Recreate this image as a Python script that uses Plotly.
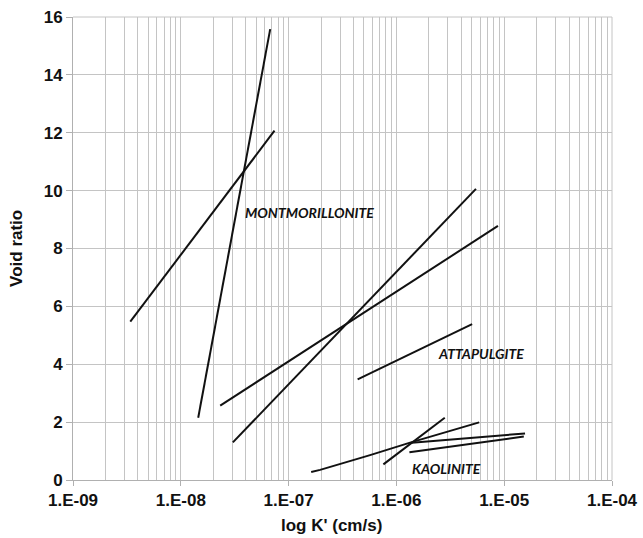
import math
import plotly.graph_objects as go

# Line data (K' in cm/s, void ratio)
mont_a_k = [3.4e-9, 7.4e-8]
mont_a_e = [5.47, 12.07]
mont_b_k = [1.45e-8, 6.75e-8]
mont_b_e = [2.15, 15.58]
line3_k = [2.32e-8, 8.75e-6]
line3_e = [2.57, 8.78]
line4_k = [3.04e-8, 5.47e-6]
line4_e = [1.30, 10.06]
atta_k = [4.37e-7, 5.04e-6]
atta_e = [3.48, 5.39]
kao_a_k = [1.62e-7, 1.96e-7, 5.7e-7, 1.34e-6, 5.86e-6]
kao_a_e = [0.28, 0.35, 0.86, 1.29, 1.99]
kao_b_k = [7.57e-7, 2.81e-6]
kao_b_e = [0.54, 2.15]
kao_c_k = [1.39e-6, 1.56e-5]
kao_c_e = [1.29, 1.61]
kao_d_k = [1.32e-6, 1.52e-5]
kao_d_e = [0.96, 1.50]

series = [(mont_a_k, mont_a_e), (mont_b_k, mont_b_e), (line3_k, line3_e),
          (line4_k, line4_e), (atta_k, atta_e), (kao_a_k, kao_a_e),
          (kao_b_k, kao_b_e), (kao_c_k, kao_c_e), (kao_d_k, kao_d_e)]

x_tickvals = [1e-9, 1e-8, 1e-7, 1e-6, 1e-5, 1e-4]
x_ticktext = ["1.E-09", "1.E-08", "1.E-07", "1.E-06", "1.E-05", "1.E-04"]
y_tickvals = [0, 2, 4, 6, 8, 10, 12, 14, 16]

labels = ["MONTMORILLONITE", "ATTAPULGITE", "KAOLINITE"]
label_k = [1.55e-7, 6.08e-6, 2.9e-6]
label_e = [9.23, 4.36, 0.40]

fig = go.Figure()
for k, e in series:
    fig.add_trace(go.Scatter(x=k, y=e, mode="lines",
                             line=dict(color="#111111", width=2),
                             showlegend=False, hoverinfo="skip"))

for t, k, e in zip(labels, label_k, label_e):
    fig.add_annotation(x=math.log10(k), y=e, text="<b><i>" + t + "</i></b>",
                       showarrow=False, xref="x", yref="y",
                       font=dict(family="Lato", size=14, color="#111111"))

grid = "#c4c4c4"
tfont = dict(family="Liberation Sans, Arial", size=17, color="#111111", weight="bold")
fig.update_xaxes(type="log", range=[-9, -4], tickvals=x_tickvals, ticktext=x_ticktext,
                 showgrid=True, gridcolor=grid, gridwidth=1,
                 minor=dict(dtick="D1", showgrid=True, gridcolor=grid, gridwidth=1, ticks=""),
                 showline=True, linecolor="#b0b0b0", linewidth=1,
                 ticks="outside", ticklen=5, tickcolor="#b0b0b0",
                 tickfont=tfont, automargin=False,
                 zeroline=False, mirror=False)
fig.update_yaxes(range=[0, 16], tickvals=y_tickvals,
                 showgrid=True, gridcolor=grid, gridwidth=1,
                 showline=True, linecolor="#b0b0b0", linewidth=1,
                 ticks="outside", ticklen=6, tickcolor="#b0b0b0",
                 tickfont=tfont, automargin=False,
                 zeroline=False)

fig.add_annotation(text="<b>log K' (cm/s)</b>", xref="paper", yref="paper",
                   x=0.48, y=-0.098, yanchor="middle", showarrow=False,
                   font=dict(family="Liberation Sans, Arial", size=17, color="#111111"))
fig.add_annotation(text="<b>Void ratio</b>", xref="paper", yref="paper",
                   x=-0.105, y=0.5, textangle=-90, xanchor="center", showarrow=False,
                   font=dict(family="Liberation Sans, Arial", size=17, color="#111111"))

fig.add_shape(type="line", xref="paper", yref="paper", x0=0, x1=1, y0=1, y1=1,
              line=dict(color=grid, width=1))
fig.add_shape(type="line", xref="paper", yref="paper", x0=1, x1=1, y0=0, y1=1,
              line=dict(color=grid, width=1))

fig.update_layout(width=643, height=538, plot_bgcolor="white", paper_bgcolor="white",
                  margin=dict(l=73, r=31, t=17, b=58))
fig.write_html("out.html", config={"displayModeBar": False},
               post_script="document.body.style.margin='0';document.body.style.overflow='hidden';")
